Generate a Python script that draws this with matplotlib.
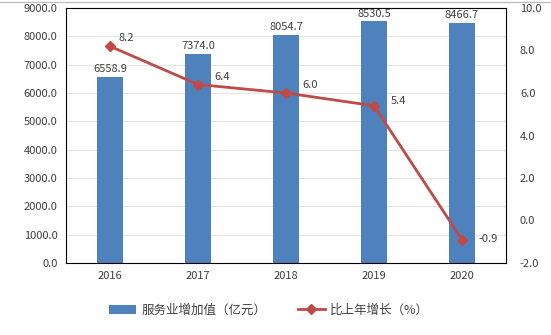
import matplotlib.pyplot as plt
from matplotlib.ticker import FormatStrFormatter

plt.rcParams['font.family'] = ['Noto Sans CJK SC', 'DejaVu Sans']

years = ['2016', '2017', '2018', '2019', '2020']
value_added = [6558.9, 7374.0, 8054.7, 8530.5, 8466.7]
growth = [8.2, 6.4, 6.0, 5.4, -0.9]

bar_color = '#4F81BD'
line_color = '#BE4B48'
text_color = '#404040'

fig = plt.figure(figsize=(5.51, 3.35), dpi=100)
ax = fig.add_axes([66 / 551, 1 - 263 / 335, 440 / 551, 255 / 335])
x = range(len(years))

bars = ax.bar(x, value_added, width=0.3, color=bar_color, zorder=2, label='服务业增加值（亿元）')
for xi, v in zip(x, value_added):
    ax.annotate('%.1f' % v, (xi, v), xytext=(0, 2), textcoords='offset points',
                ha='center', va='bottom', fontsize=8, color=text_color)

ax.set_ylim(0, 9000)
ax.set_xlim(-0.5, 4.5)
ax.set_yticks(range(0, 9001, 1000))
ax.yaxis.set_major_formatter(FormatStrFormatter('%.1f'))
ax.set_xticks(list(x))
ax.set_xticklabels(years)
ax.grid(axis='y', color='#E6E6E6', linewidth=0.8, zorder=0)
ax.tick_params(length=0, labelsize=8, labelcolor=text_color, pad=6)
for s in ax.spines.values():
    s.set_color('black')
    s.set_linewidth(0.8)

ax2 = ax.twinx()
ax2.plot(list(x), growth, color=line_color, linewidth=2, marker='D', markersize=5,
         zorder=3, label='比上年增长（%）')
offsets = [(6, 2), (12, 2), (12, 2), (12, 0), (12, -3)]
for xi, g, off in zip(x, growth, offsets):
    ax2.annotate('%.1f' % g, (xi, g), xytext=off, textcoords='offset points',
                 ha='left', va='bottom', fontsize=8, color=text_color)
ax2.set_ylim(-2, 10)
ax2.set_yticks(range(-2, 11, 2))
ax2.yaxis.set_major_formatter(FormatStrFormatter('%.1f'))
ax2.tick_params(length=0, labelsize=8, labelcolor=text_color, pad=10)
for s in ax2.spines.values():
    s.set_visible(False)

h1, l1 = ax.get_legend_handles_labels()
h2, l2 = ax2.get_legend_handles_labels()
fig.legend(h1 + h2, l1 + l2, loc='center', bbox_to_anchor=(269 / 551, 1 - 310 / 335),
           ncol=2, frameon=False, fontsize=9, handlelength=2.2, handletextpad=0.4,
           columnspacing=2.5, labelcolor=text_color)

fig.add_artist(plt.Line2D([0, 1], [1 - 1.5 / 335] * 2, color='#BFBFBF', linewidth=1))

fig.savefig('out.png', dpi=100)
